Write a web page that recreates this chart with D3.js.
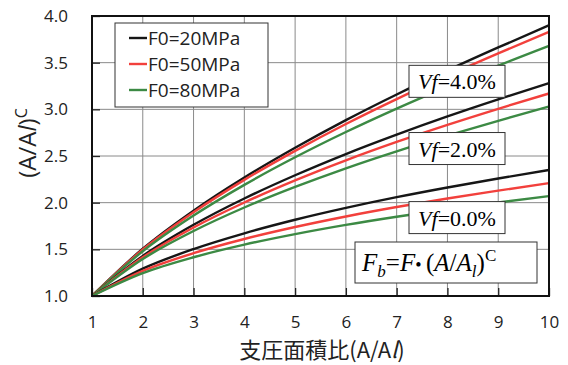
<!DOCTYPE html>
<html>
<head>
<meta charset="utf-8">
<script src="https://cdn.jsdelivr.net/npm/d3@7"></script>
<style>
  body { margin: 0; background: #fff; }
  text { font-family: "Open Sans", "Noto Sans", sans-serif; }
</style>
</head>
<body>
<div id="chart"></div>
<script>
// values
var ratio = [1, 2, 3, 4, 5, 6, 7, 8, 9, 10]
var f0Labels = ["F0=20MPa", "F0=50MPa", "F0=80MPa"]
var f0Colors = ["#161616", "#f2403c", "#3c8a44"]
var vf4 = [
  [1, 1.506, 1.914, 2.269, 2.588, 2.884, 3.159, 3.417, 3.663, 3.90],
  [1, 1.498, 1.897, 2.244, 2.555, 2.843, 3.110, 3.361, 3.600, 3.83],
  [1, 1.480, 1.862, 2.191, 2.486, 2.757, 3.008, 3.244, 3.468, 3.68]
]
var vf2 = [
  [1, 1.430, 1.763, 2.045, 2.294, 2.521, 2.729, 2.924, 3.107, 3.28],
  [1, 1.415, 1.734, 2.002, 2.239, 2.454, 2.651, 2.834, 3.006, 3.17],
  [1, 1.396, 1.696, 1.948, 2.168, 2.368, 2.550, 2.718, 2.877, 3.03]
]
var vf0 = [
  [1, 1.293, 1.503, 1.672, 1.817, 1.944, 2.059, 2.163, 2.259, 2.35],
  [1, 1.269, 1.459, 1.611, 1.739, 1.852, 1.953, 2.045, 2.129, 2.21],
  [1, 1.245, 1.415, 1.550, 1.663, 1.762, 1.849, 1.929, 2.002, 2.07]
]
var yTicks = [1.0, 1.5, 2.0, 2.5, 3.0, 3.5, 4.0]
var groups = [
  { name: "4.0%", data: vf4, at: 3.3 },
  { name: "2.0%", data: vf2, at: 2.58 },
  { name: "0.0%", data: vf0, at: 1.84 }
]

var W = 568, H = 365
var m = { left: 92, right: 19, top: 16, bottom: 69 }
var svg = d3.select("#chart").append("svg")
  .attr("width", W).attr("height", H)

var x = d3.scaleLinear().domain([1, 10]).range([m.left, W - m.right])
var y = d3.scaleLinear().domain([1, 4]).range([H - m.bottom, m.top])

// grid
svg.append("g").selectAll("line").data(ratio.slice(1, -1)).enter().append("line")
  .attr("x1", d => x(d)).attr("x2", d => x(d))
  .attr("y1", y(1)).attr("y2", y(4))
  .attr("stroke", "#8a8a8a").attr("stroke-width", 1)
svg.append("g").selectAll("line").data(yTicks.slice(1, -1)).enter().append("line")
  .attr("y1", d => y(d)).attr("y2", d => y(d))
  .attr("x1", x(1)).attr("x2", x(10))
  .attr("stroke", "#8a8a8a").attr("stroke-width", 1)

// axes, ticks pointing inside
svg.append("g").attr("transform", "translate(0," + y(1) + ")")
  .call(d3.axisBottom(x).tickValues(ratio).tickFormat(d3.format("d")).tickSizeInner(-8).tickSizeOuter(0).tickPadding(20))
svg.append("g").attr("transform", "translate(" + x(1) + ",0)")
  .call(d3.axisLeft(y).tickValues(yTicks).tickFormat(d3.format(".1f")).tickSizeInner(-8).tickSizeOuter(0).tickPadding(24))
svg.selectAll(".domain").remove()
svg.selectAll(".tick line").attr("stroke", "#222").attr("stroke-width", 1.3)
svg.selectAll(".tick text").attr("font-size", 17).attr("fill", "#222")
  .style("font-family", "'Open Sans', 'Noto Sans', sans-serif")

// curves
var line = d3.line()
  .x((d, i) => x(ratio[i]))
  .y(d => y(d))
  .curve(d3.curveMonotoneX)

groups.forEach(function(g) {
  g.data.forEach(function(s, k) {
    svg.append("path").datum(s)
      .attr("d", line)
      .attr("fill", "none")
      .attr("stroke", f0Colors[k])
      .attr("stroke-width", 2.4)
  })
})

// frame
svg.append("rect")
  .attr("x", x(1)).attr("y", y(4))
  .attr("width", x(10) - x(1)).attr("height", y(1) - y(4))
  .attr("fill", "none").attr("stroke", "#111").attr("stroke-width", 2)

// Vf labels
groups.forEach(function(g) {
  var lg = svg.append("g").attr("transform", "translate(409," + (y(g.at) - 16) + ")")
  lg.append("rect").attr("width", 96).attr("height", 32)
    .attr("fill", "#fff").attr("stroke", "#333").attr("stroke-width", 1)
  var t = lg.append("text").attr("x", 48).attr("y", 24).attr("text-anchor", "middle")
    .attr("font-size", 22).style("font-family", "'Liberation Serif', 'DejaVu Serif', serif")
  t.append("tspan").attr("font-style", "italic").text("Vf")
  t.append("tspan").text("=" + g.name)
})

// formula box
var fg = svg.append("g").attr("transform", "translate(355,242)")
fg.append("rect").attr("width", 182).attr("height", 41)
  .attr("fill", "#fff").attr("stroke", "#333").attr("stroke-width", 1)
var ft = fg.append("text").attr("x", 7).attr("y", 29)
  .attr("font-size", 25).style("font-family", "'Liberation Serif', 'DejaVu Serif', serif")
ft.append("tspan").attr("font-style", "italic").text("F")
ft.append("tspan").attr("font-style", "italic").attr("font-size", 17).attr("dy", 6).text("b")
ft.append("tspan").attr("dy", -6).text("=")
ft.append("tspan").attr("font-style", "italic").text("F")
ft.append("tspan").attr("font-size", 18).text("\u2022 ")
ft.append("tspan").text("(")
ft.append("tspan").attr("font-style", "italic").text("A")
ft.append("tspan").text("/")
ft.append("tspan").attr("font-style", "italic").text("A")
ft.append("tspan").attr("font-style", "italic").attr("font-size", 17).attr("dy", 6).text("l")
ft.append("tspan").attr("dy", -6).text(")")
ft.append("tspan").attr("font-size", 17).attr("dy", -10).text("C")

// legend
var leg = svg.append("g").attr("transform", "translate(115,23)")
leg.append("rect").attr("width", 153).attr("height", 84)
  .attr("fill", "#fff").attr("stroke", "#333").attr("stroke-width", 1)
f0Labels.forEach(function(l, i) {
  var yy = 15 + i * 26
  leg.append("line").attr("x1", 14).attr("x2", 32).attr("y1", yy).attr("y2", yy)
    .attr("stroke", f0Colors[i]).attr("stroke-width", 2.4)
  leg.append("text").attr("x", 33).attr("y", yy + 7).attr("font-size", 19)
    .attr("fill", "#222").text(l)
})

// axis titles
var xt = svg.append("text").attr("x", 322).attr("y", 358).attr("text-anchor", "middle")
  .attr("font-size", 22).attr("fill", "#222")
  .style("font-family", "'Noto Sans CJK JP', 'Noto Sans', sans-serif")
xt.append("tspan").text("支圧面積比(A/A")
xt.append("tspan").attr("font-style", "italic").text("l")
xt.append("tspan").text(")")

var yt = svg.append("text").attr("transform", "translate(36,143) rotate(-90)")
  .attr("text-anchor", "middle").attr("font-size", 24).attr("fill", "#222")
yt.append("tspan").text("(A/A")
yt.append("tspan").attr("font-style", "italic").text("l")
yt.append("tspan").text(")")
yt.append("tspan").attr("font-size", 16).attr("dy", -9).text("C")
</script>
</body>
</html>
